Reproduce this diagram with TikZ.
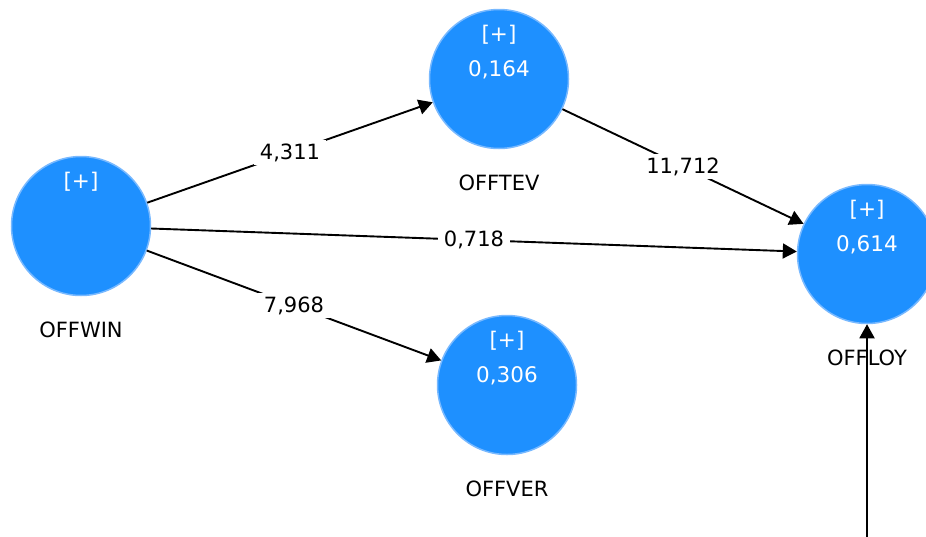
\documentclass[tikz,border=0pt]{standalone}
\usepackage{fontspec}
\setmainfont{DejaVu Sans}
\usetikzlibrary{arrows.meta}
\definecolor{lvfill}{RGB}{30,144,255}
\definecolor{lvedge}{RGB}{120,185,255}
\tikzset{
  x=1pt, y=-1pt,
  latent/.style={circle, fill=lvfill, draw=lvedge, line width=1.5pt,
    minimum size=139pt, inner sep=0pt},
  intext/.style={text=white, font=\fontsize{21.5}{25}\selectfont},
  nametext/.style={text=black, font=\fontsize{21}{25}\selectfont},
  path/.style={draw=black, line width=1.9pt,
    -{Triangle[length=14pt,width=15pt]}},
  coef/.style={fill=white, inner xsep=6pt, inner ysep=3pt,
    font=\fontsize{21}{25}\selectfont, midway}
}
\begin{document}
\begin{tikzpicture}
\useasboundingbox (0,0) rectangle (926,536);

% constructs
\node[latent] (win) at (81,226) {};
\node[latent] (tev) at (499,79) {};
\node[latent] (ver) at (507,385) {};
\node[latent] (loy) at (867,254) {};

% texts inside the circles
\node[intext] (winp) at (81,182) {[+]};
\node[intext] (tevp) at (499,35) {[+]};
\node[intext] (tevr) at (499,70) {0,164};
\node[intext] (verp) at (507,341) {[+]};
\node[intext] (verr) at (507,376) {0,306};
\node[intext] (loyp) at (867,210) {[+]};
\node[intext] (loyr) at (867,245) {0,614};

% construct names
\node[nametext] (winn) at (81,330) {OFFWIN};
\node[nametext] (tevn) at (499,183) {OFFTEV};
\node[nametext] (vern) at (507,489) {OFFVER};
\node[nametext] (loyn) at (867,358) {OFFLOY};

% paths with coefficients
\draw[path] (win) -- node[coef] {4,311} (tev);
\draw[path] (win) -- node[coef] {7,968} (ver);
\draw[path] (win) -- node[coef] {0,718} (loy);
\draw[path] (tev) -- node[coef] {11,712} (loy);

\coordinate (src) at (867,540);
\draw[path] (src) -- (loy);
\end{tikzpicture}
\end{document}
